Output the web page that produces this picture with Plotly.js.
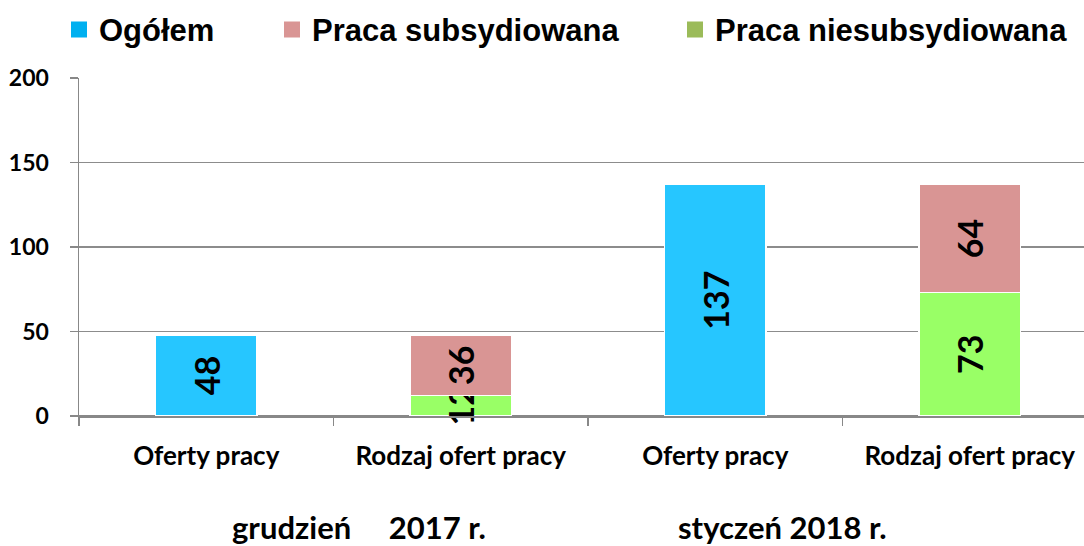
<!DOCTYPE html>
<html>
<head>
<meta charset="utf-8">
<script src="https://cdn.plot.ly/plotly-3.0.1.min.js"></script>
<style>html,body{margin:0;padding:0;background:#fff;}#chart{width:1084px;height:546px;}</style>
</head>
<body>
<div id="chart"></div>
<script>
// ---- data ----
const categories = ['Oferty pracy', 'Rodzaj ofert pracy', 'Oferty pracy', 'Rodzaj ofert pracy'];
const periods = ['grudzień\u00a0\u00a0\u00a0\u00a0\u00a02017 r.', 'styczeń 2018 r.'];
const seriesNames = ['Ogółem', 'Praca subsydiowana', 'Praca niesubsydiowana'];
const ogolem = [48, null, 137, null];
const subsydiowana = [null, 36, null, 64];
const niesubsydiowana = [null, 12, null, 73];

// ---- styles ----
const barColors = ['#26C6FF', '#D99594', '#99FF66'];
const legendColors = ['#00B0F0', '#D99594', '#9BBB59'];
const legendIds = ['legend', 'legend2', 'legend3'];
const legendX = [59, 272, 675];
const xIdx = categories.map((c, i) => i);

const labelFont = {family: 'Lato, "Open Sans", sans-serif', size: 34, color: '#000', weight: 'bold'};

function barTrace(name, y, color) {
  return {
    type: 'bar', name: name, x: xIdx, y: y,
    width: 0.4,
    marker: {color: color, line: {color: '#ffffff', width: 1.5}},
    texttemplate: '%{y}', textposition: 'inside', textangle: -90,
    insidetextanchor: 'middle', constraintext: 'none', cliponaxis: false,
    textfont: labelFont, insidetextfont: labelFont,
    showlegend: false, hoverinfo: 'skip'
  };
}
// legend-only entries (point lies outside a hidden axis range so it leaves no mark)
function legendTrace(i) {
  return {type: 'scatter', mode: 'markers', name: seriesNames[i], x: [0.5], y: [-1], xaxis: 'x2', yaxis: 'y2',
          marker: {color: legendColors[i], symbol: 'square', size: 16}, cliponaxis: true,
          showlegend: true, legend: legendIds[i], hoverinfo: 'skip'};
}

const data = [
  barTrace(seriesNames[0], ogolem, barColors[0]),
  barTrace(seriesNames[2], niesubsydiowana, barColors[2]),
  barTrace(seriesNames[1], subsydiowana, barColors[1]),
  legendTrace(0), legendTrace(1), legendTrace(2)
];

const legendFont = {family: '"Liberation Sans Narrow", "Arial Narrow", "Liberation Sans", Arial, sans-serif', size: 31, color: '#000', weight: 'bold'};
function legendBox(i) {
  return {orientation: 'h', xref: 'container', yref: 'container',
          x: legendX[i] / 1084, y: 0.995, xanchor: 'left', yanchor: 'top',
          font: legendFont, itemwidth: 30, itemclick: false, bgcolor: 'rgba(0,0,0,0)'};
}

const tickFont = {family: 'Lato, "Open Sans", sans-serif', size: 26, color: '#000', weight: 'bold'};
const periodFont = {family: 'Lato, "Open Sans", sans-serif', size: 31, color: '#000', weight: 'bold'};

const layout = {
  width: 1084, height: 546,
  margin: {l: 79, r: 0, t: 78, b: 130},
  paper_bgcolor: '#ffffff', plot_bgcolor: '#ffffff',
  barmode: 'stack',
  showlegend: true,
  legend: legendBox(0), legend2: legendBox(1), legend3: legendBox(2),
  xaxis: {
    type: 'category', range: [-0.5, 3.449],
    tickmode: 'array', tickvals: xIdx, ticktext: categories,
    tickson: 'boundaries', ticks: 'outside', ticklen: 8, tickcolor: '#888', tickwidth: 1.5,
    showline: true, linecolor: '#888', linewidth: 1.5,
    showgrid: false, zeroline: false,
    tickfont: tickFont, ticklabelstandoff: 16, fixedrange: true
  },
  yaxis: {
    range: [0, 200], dtick: 50, tick0: 0,
    ticks: 'outside', ticklen: 8, tickcolor: '#888', tickwidth: 1.5,
    showline: true, linecolor: '#888', linewidth: 1.5,
    showgrid: true, gridcolor: '#8c8c8c', gridwidth: 1.5,
    zeroline: true, zerolinecolor: '#888', zerolinewidth: 1.5,
    tickfont: {family: 'Lato, "Open Sans", sans-serif', size: 23, color: '#000', weight: 'bold'},
    ticklabelstandoff: 16, fixedrange: true
  },
  xaxis2: {overlaying: 'x', visible: false, range: [0, 1], fixedrange: true},
  yaxis2: {overlaying: 'y', visible: false, range: [0, 1], fixedrange: true},
  annotations: [
    {text: periods[0], xref: 'x', yref: 'paper', x: 0.6, y: -0.328, showarrow: false, yanchor: 'middle', font: periodFont},
    {text: periods[1], xref: 'x', yref: 'paper', x: 2.266, y: -0.328, showarrow: false, yanchor: 'middle', font: periodFont}
  ]
};

Plotly.newPlot('chart', data, layout, {displayModeBar: false, staticPlot: true});
</script>
</body>
</html>
